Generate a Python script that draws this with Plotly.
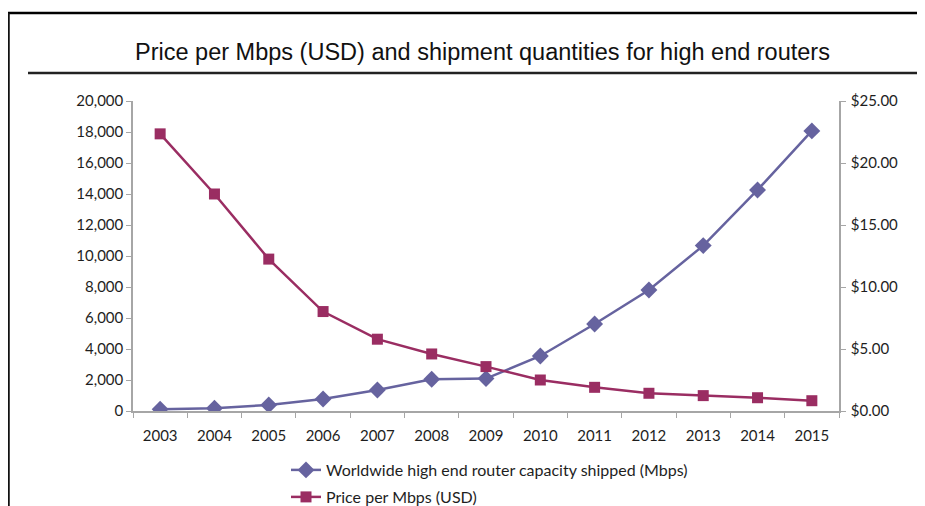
import plotly.graph_objects as go

years = ["2003", "2004", "2005", "2006", "2007", "2008", "2009",
         "2010", "2011", "2012", "2013", "2014", "2015"]
capacity_mbps = [110, 175, 390, 775, 1355, 2045, 2090,
                 3550, 5610, 7810, 10670, 14260, 18070]
price_usd = [22.35, 17.50, 12.25, 8.02, 5.79, 4.60, 3.58,
             2.50, 1.91, 1.43, 1.24, 1.07, 0.83]

left_ticks = [0, 2000, 4000, 6000, 8000, 10000, 12000, 14000, 16000, 18000, 20000]
right_ticks = [0, 5, 10, 15, 20, 25]

# page body has an 8px margin; work in page pixels and convert
OFF = 8
W, H = 925 - OFF, 506 - OFF
PL, PR, PT, PB = 133 - OFF, 839 - OFF, 101 - OFF, 411 - OFF

BLUE = "#66639F"
PURPLE = "#9A2D62"
AXIS = "#A6A6A6"
TXT = "#1E1E1E"
TICKFONT = dict(family="Lato, Open Sans, sans-serif", size=15, color=TXT)
LEGFONT = dict(family="Lato, Open Sans, sans-serif", size=16, color=TXT)


def px_x(p):
    return (p - OFF - PL) / (PR - PL)


def px_y(p):
    return (PB - (p - OFF)) / (PB - PT)


fig = go.Figure()
fig.add_trace(go.Scatter(
    x=years, y=capacity_mbps, name="Worldwide high end router capacity shipped (Mbps)",
    mode="lines+markers", line=dict(color=BLUE, width=2.5),
    marker=dict(symbol="diamond", size=13, color=BLUE),
    legend="legend", yaxis="y"))
fig.add_trace(go.Scatter(
    x=years, y=price_usd, name="Price per Mbps (USD)",
    mode="lines+markers", line=dict(color=PURPLE, width=2.5),
    marker=dict(symbol="square", size=11, color=PURPLE),
    legend="legend2", yaxis="y2"))

shapes = [
    dict(type="line", xref="paper", yref="paper",
         x0=px_x(8), x1=px_x(940), y0=px_y(13), y1=px_y(13),
         line=dict(color="#000000", width=2.5)),
    dict(type="line", xref="paper", yref="paper",
         x0=px_x(8.5), x1=px_x(8.5), y0=px_y(13), y1=px_y(530),
         line=dict(color="#111111", width=2.5)),
    dict(type="line", xref="paper", yref="paper",
         x0=px_x(28), x1=px_x(922), y0=px_y(73), y1=px_y(73),
         line=dict(color="#222222", width=2.5)),
]

fig.update_layout(
    width=W, height=H,
    margin=dict(l=PL, r=W - PR, t=PT, b=H - PB, pad=0, autoexpand=False),
    paper_bgcolor="white", plot_bgcolor="white",
    title=dict(text="Price per Mbps (USD) and shipment quantities for high end routers",
               font=dict(family="Liberation Sans, Arial, sans-serif", size=23.5, color="#111111"),
               x=(482.5 - OFF) / W, xanchor="center", xref="container",
               y=1 - (52 - OFF) / H, yanchor="middle", yref="container"),
    xaxis=dict(type="category", range=[-0.5, len(years) - 0.5],
               showline=True, linecolor=AXIS, linewidth=1.5,
               ticks="outside", tickson="boundaries", ticklen=5, tickcolor=AXIS,
               ticklabelstandoff=10,
               tickfont=TICKFONT, showgrid=False, zeroline=False),
    yaxis=dict(range=[0, 20000], tickvals=left_ticks, tickformat=",d",
               showline=True, linecolor=AXIS, linewidth=1.5,
               ticks="outside", ticklen=5, tickcolor=AXIS,
               tickfont=TICKFONT, showgrid=False, zeroline=False),
    yaxis2=dict(range=[0, 25], tickvals=right_ticks, tickformat="$.2f",
                overlaying="y", side="right",
                showline=True, linecolor=AXIS, linewidth=1.5,
                ticks="outside", ticklen=5, tickcolor=AXIS,
                ticklabelstandoff=2,
                tickfont=TICKFONT, showgrid=False, zeroline=False),
    legend=dict(x=px_x(286), y=px_y(470), xanchor="left", yanchor="middle",
                font=LEGFONT, bgcolor="rgba(0,0,0,0)"),
    legend2=dict(x=px_x(286), y=px_y(497), xanchor="left", yanchor="middle",
                 font=LEGFONT, bgcolor="rgba(0,0,0,0)"),
    shapes=shapes,
    showlegend=True,
)

fig.write_html("out.html")
